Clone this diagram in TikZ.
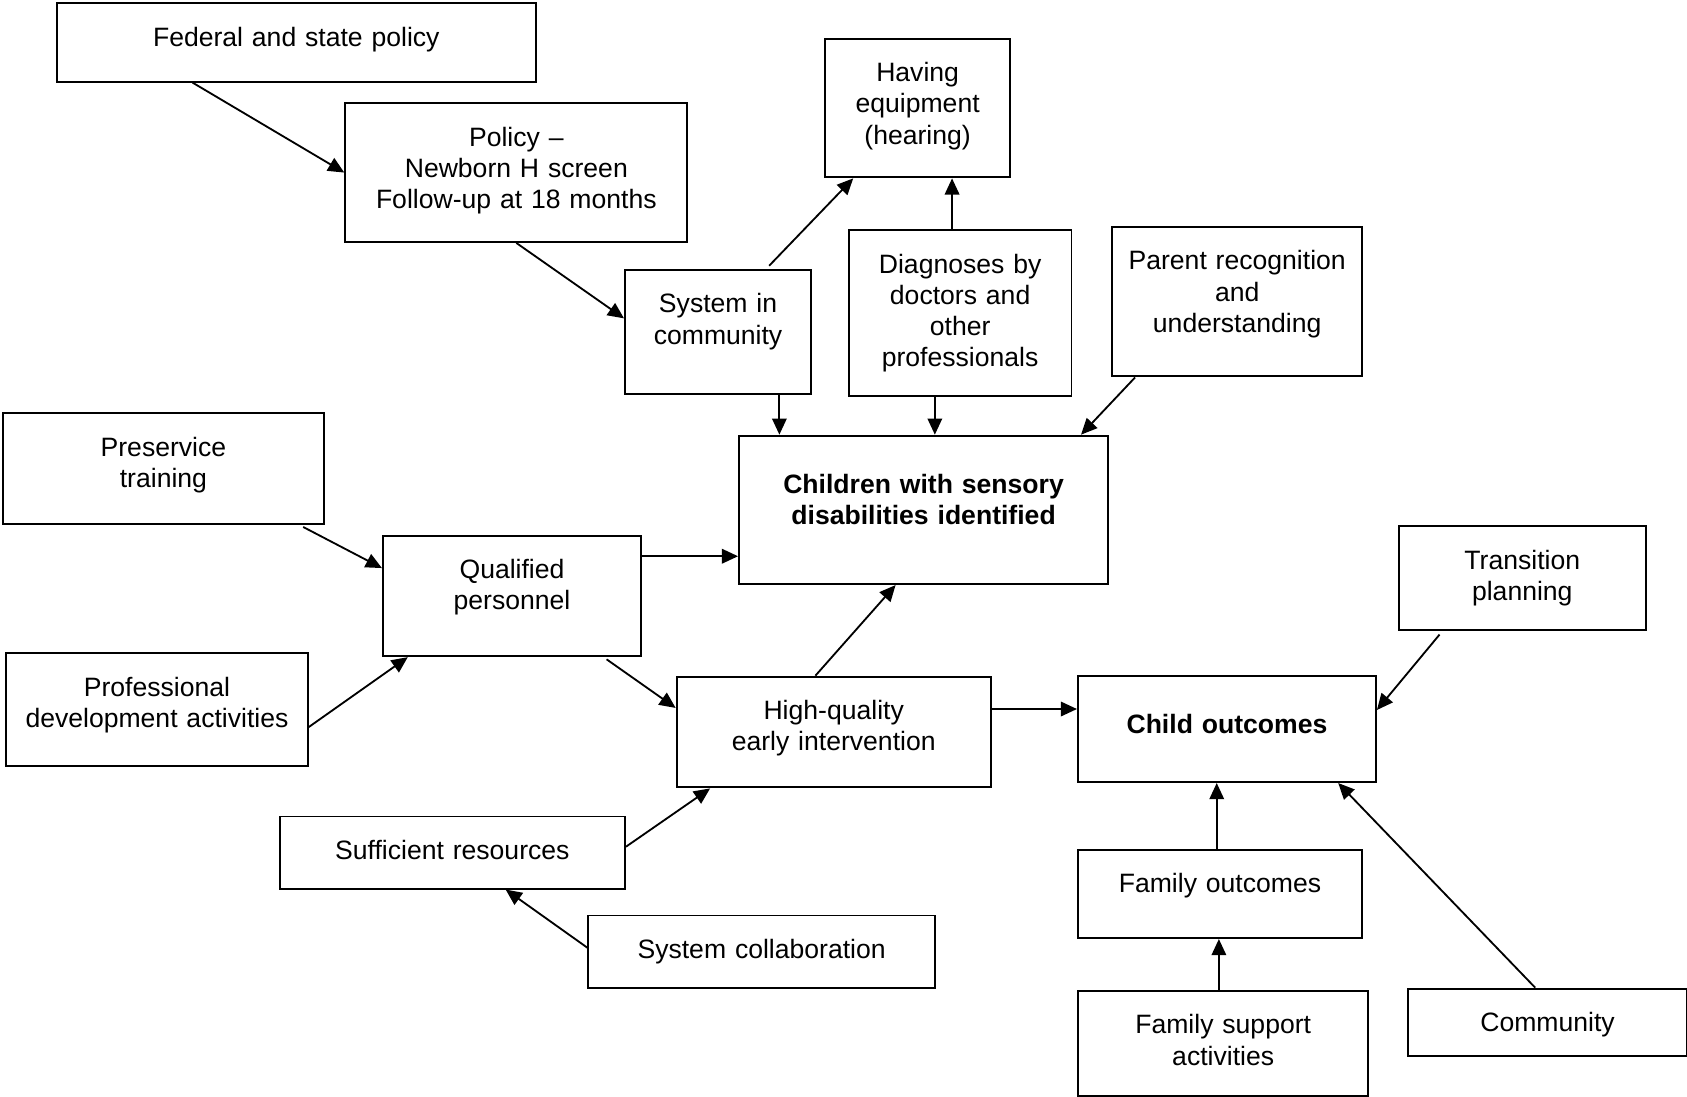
\documentclass[tikz,border=0pt]{standalone}
\usepackage{fontspec}
\setmainfont{Liberation Sans}
\usepackage{tikz}
\usetikzlibrary{arrows.meta,calc}
\tikzset{
  box/.style={draw, line width=1.8pt, inner sep=0pt, align=center, anchor=north west, text height=40pt, font=\fontsize{24.7}{29}\selectfont},
  hbox/.style={box, text height=54pt, font=\fontsize{24.7}{29}\selectfont\bfseries},
  arr/.style={line width=1.7pt, -{Triangle[length=15pt,width=13.5pt]}}
}
\begin{document}
\begin{tikzpicture}[x=1pt, y=-1pt]
\useasboundingbox (0,0) rectangle (1568,1019);
\node[box, text width=445pt, text depth=33pt] (fed) at (52,2) {Federal and state policy};
\node[box, text width=318pt, text depth=89pt] (pol) at (320,95) {Policy –\\Newborn H screen\\Follow-up at 18 months};
\node[box, text width=172pt, text depth=89pt] (equip) at (766,35) {Having\\equipment\\(hearing)};
\node[box, text width=173pt, text depth=75pt] (sys) at (580,250) {System in\\community};
\node[box, text width=207pt, text depth=114pt] (diag) at (788,213) {Diagnoses by\\doctors and\\other\\professionals};
\node[box, text width=232pt, text depth=99pt] (par) at (1033,210) {Parent recognition\\and\\understanding};
\node[box, text width=298pt, text depth=63pt] (pre) at (2,383) {Preservice\\training};
\node[hbox, text width=343pt, text depth=84pt] (kids) at (686,404) {Children with sensory\\disabilities identified};
\node[box, text width=240pt, text depth=72pt] (qual) at (355,497) {Qualified\\personnel};
\node[box, text width=230pt, text depth=57pt] (trans) at (1299,488) {Transition\\planning};
\node[box, text width=280pt, text depth=65pt] (prof) at (5,606) {Professional\\development activities};
\node[box, text width=292pt, text depth=63pt] (hqei) at (628,628) {High-quality\\early intervention};
\node[hbox, text width=277pt, text depth=45pt] (child) at (1001,627) {Child outcomes};
\node[box, text width=321pt, text depth=27pt] (res) at (259,758) {Sufficient resources};
\node[box, text width=322pt, text depth=27pt] (collab) at (546,850) {System collaboration};
\node[box, text width=264pt, text depth=42pt] (fam) at (1001,789) {Family outcomes};
\node[box, text width=270pt, text depth=58pt] (supp) at (1001,920) {Family support\\activities};
\node[box, text width=259pt, text depth=23pt] (comm) at (1308,918) {Community};

\draw[arr] ($(fed.south west)+(127,0)$) -- (pol.west);
\draw[arr] (pol.south) -- ($(sys.west)+(0,-12.5)$);
\draw[arr] ($(sys.north)+(47.5,-3)$) -- ($(equip.south west)+(27,0)$);
\draw[arr] ([xshift=-7.5pt]diag.north) -- ([xshift=-7.5pt]diag.north |- equip.south);
\draw[arr] ([xshift=57pt]sys.south) -- ([xshift=57pt]sys.south |- kids.north);
\draw[arr] ([xshift=-23.5pt]diag.south) -- ([xshift=-23.5pt]diag.south |- kids.north);
\draw[arr] ($(par.south west)+(22,0)$) -- ($(kids.north east)+(-26,0)$);
\draw[arr] ($(pre.south east)+(-20,2)$) -- ($(qual.north west)+(0,31)$);
\draw[arr] ([yshift=-20pt]qual.north east) -- ([yshift=-20pt]qual.north east -| kids.west);
\draw[arr] ($(prof.east)+(0,16.5)$) -- ($(qual.south west)+(24,0)$);
\draw[arr] ($(qual.south east)+(-33,2)$) -- ($(hqei.north west)+(0,30)$);
\draw[arr] ($(hqei.north)+(-17,0)$) -- ($(kids.south)+(-26,0)$);
\draw[arr] ([yshift=-31pt]hqei.north east) -- ([yshift=-31pt]hqei.north east -| child.west);
\draw[arr] ($(res.north east)+(0,29)$) -- ($(hqei.south west)+(32,0)$);
\draw[arr] ($(collab.west)+(0,-3.5)$) -- ($(res.south west)+(211,0)$);
\draw[arr] ($(trans.south west)+(39,3)$) -- ($(child.east)+(0,-17.5)$);
\draw[arr] ([xshift=-3pt]fam.north) -- ([xshift=-3pt]fam.north |- child.south);
\draw[arr] ([xshift=-4pt]supp.north) -- ([xshift=-4pt]supp.north |- fam.south);
\draw[arr] ($(comm.north)+(-11.5,0)$) -- ($(child.south east)+(-36,0)$);
\end{tikzpicture}
\end{document}
